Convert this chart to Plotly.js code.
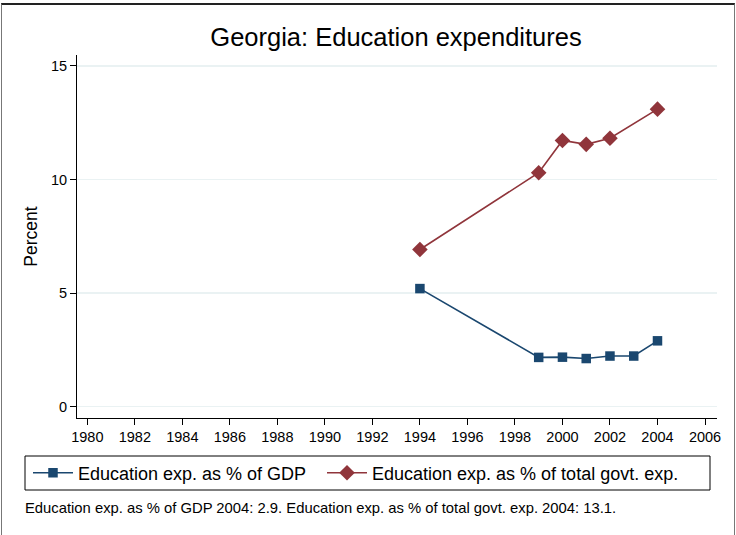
<!DOCTYPE html>
<html>
<head>
<meta charset="utf-8">
<script src="https://cdn.plot.ly/plotly-3.0.1.min.js"></script>
<style>
  html, body { margin: 0; padding: 0; background: #fff; }
  #wrap { position: relative; width: 736px; height: 535px; overflow: hidden; }
  #chart { position: absolute; left: 0; top: 0; width: 736px; height: 535px; }
  #frame { position: absolute; left: 1px; top: 3px; width: 732px; height: 560px;
           border-top: 2px solid #222; border-left: 1px solid #777; border-right: 1px solid #777;
           pointer-events: none; }
</style>
</head>
<body>
<div id="wrap">
  <div id="chart"></div>
  <div id="frame"></div>
</div>
<script>
// ---- data ----
const titleText = "Georgia: Education expenditures";
const yTitle = "Percent";
const gdpName = "Education exp. as % of GDP";
const govName = "Education exp. as % of total govt. exp.";
const gdpYears = [1994, 1999, 2000, 2001, 2002, 2003, 2004];
const gdpValues = [5.2, 2.17, 2.18, 2.12, 2.23, 2.23, 2.9];
const govYears = [1994, 1999, 2000, 2001, 2002, 2004];
const govValues = [6.92, 10.3, 11.72, 11.55, 11.82, 13.1];
const xTicks = [1980, 1982, 1984, 1986, 1988, 1990, 1992, 1994, 1996, 1998, 2000, 2002, 2004, 2006];
const yTicks = [0, 5, 10, 15];
const noteText = "Education exp. as % of GDP 2004: 2.9. Education exp. as % of total govt. exp. 2004: 13.1.";

const FONT = "Liberation Sans, Arial, sans-serif";
const BLUE = "#1a476f";
const RED = "#90353b";

const traces = [
  {
    x: gdpYears, y: gdpValues, name: gdpName, type: "scatter", mode: "lines+markers",
    line: { color: BLUE, width: 1.6 },
    marker: { symbol: "square", size: 9.5, color: BLUE },
    legend: "legend"
  },
  {
    x: govYears, y: govValues, name: govName, type: "scatter", mode: "lines+markers",
    line: { color: RED, width: 1.6 },
    marker: { symbol: "diamond", size: 12, color: RED },
    legend: "legend2"
  }
];

// plot area: x 77..717, y 55..418
const L = 77, R = 717, T = 55, B = 418, W = 736, H = 535;
const px = v => (v - L) / (R - L);
const py = v => 1 - (v - T) / (B - T);

const legendBase = {
  orientation: "h",
  xanchor: "left",
  y: py(473), yanchor: "middle",
  font: { family: FONT, size: 18, color: "#000" },
  bgcolor: "rgba(0,0,0,0)", borderwidth: 0,
  itemwidth: 40
};

const layout = {
  width: W, height: H,
  margin: { l: L, r: W - R, t: T, b: H - B, pad: 0 },
  paper_bgcolor: "#ffffff",
  plot_bgcolor: "#ffffff",
  font: { family: FONT, color: "#000" },
  showlegend: true,
  title: {
    text: titleText, font: { family: FONT, size: 25.5, color: "#000" },
    x: px(396), xref: "paper", xanchor: "center",
    y: 1 - 37 / H, yref: "container", yanchor: "middle"
  },
  xaxis: {
    range: [1979.566, 2006.505],
    tickvals: xTicks, ticktext: xTicks.map(String),
    ticks: "outside", ticklen: 6, tickwidth: 1, tickcolor: "#000",
    showline: true, linecolor: "#000", linewidth: 1,
    showgrid: false, zeroline: false,
    tickfont: { family: FONT, size: 14.5, color: "#000" }
  },
  yaxis: {
    range: [-0.498, 15.484],
    tickvals: yTicks, ticktext: yTicks.map(String),
    ticks: "outside", ticklen: 6, tickwidth: 1, tickcolor: "#000",
    showline: true, linecolor: "#000", linewidth: 1,
    showgrid: true, gridcolor: "#eaf2f3", gridwidth: 1.5,
    zeroline: false,
    tickfont: { family: FONT, size: 14.5, color: "#000" },
    title: { text: yTitle, font: { family: FONT, size: 17.5, color: "#000" }, standoff: 8 }
  },
  legend: Object.assign({}, legendBase, { x: px(28) }),
  legend2: Object.assign({}, legendBase, { x: px(322) }),
  shapes: [
    {
      type: "rect", xref: "paper", yref: "paper",
      x0: px(25), x1: px(710), y0: py(456), y1: py(490),
      line: { color: "#000", width: 1 }, fillcolor: "rgba(0,0,0,0)", layer: "below"
    }
  ],
  annotations: [
    {
      text: noteText, xref: "paper", yref: "paper",
      x: px(23), xanchor: "left", y: py(508), yanchor: "middle",
      showarrow: false, font: { family: FONT, size: 14.8, color: "#000" }
    }
  ]
};

Plotly.newPlot("chart", traces, layout, { displayModeBar: false, staticPlot: true });
</script>
</body>
</html>
